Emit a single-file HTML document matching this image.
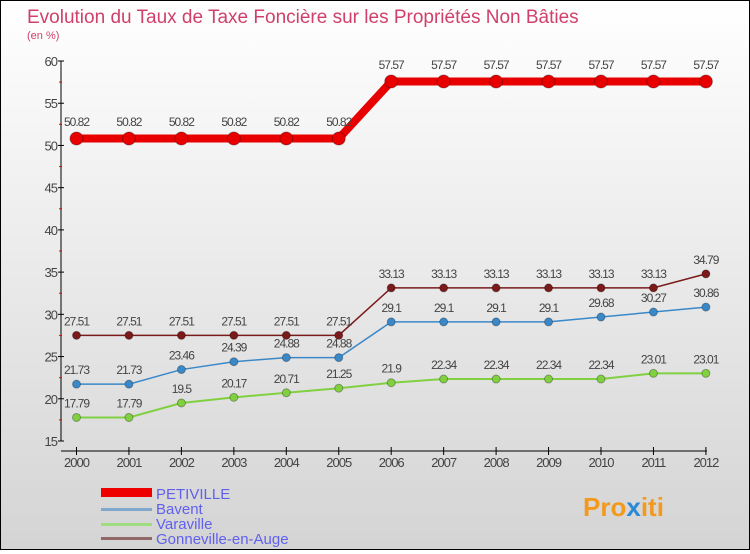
<!DOCTYPE html>
<html><head><meta charset="utf-8"><style>
html,body{margin:0;padding:0}
body{width:750px;height:550px;overflow:hidden;font-family:"Liberation Sans",sans-serif}
#wrap{position:relative;width:748px;height:548px;border:1px solid #000;background:linear-gradient(#ffffff,#d4d4d4)}
</style></head><body>
<div id="wrap">
<svg id="chart" width="748" height="548">
<text x="26" y="22" font-size="19" fill="#d0406a">Evolution du Taux de Taxe Foncière sur les Propriétés Non Bâties</text>
<text x="26" y="38" font-size="11" fill="#d0406a">(en %)</text>
<g id="axes"></g><g id="series"></g>
<g>
<rect x="100" y="487" width="51" height="9" fill="#e00"/>
<text x="155" y="498" font-size="15" fill="#6060ee">PETIVILLE</text>
<rect x="100" y="507" width="51" height="3" fill="#80a8cc"/>
<text x="155" y="513" font-size="15" fill="#6060ee">Bavent</text>
<rect x="100" y="522" width="51" height="3" fill="#a0dc80"/>
<text x="155" y="528" font-size="15" fill="#6060ee">Varaville</text>
<rect x="100" y="536" width="51" height="3" fill="#906868"/>
<text x="155" y="543" font-size="15" fill="#6060ee">Gonneville-en-Auge</text>
</g>
<text x="582" y="515" font-size="26" font-weight="bold" fill="#f39a1e">Pro<tspan fill="#2a8ad6">x</tspan>iti</text>
</svg>
</div>
<script>
const years=[2000,2001,2002,2003,2004,2005,2006,2007,2008,2009,2010,2011,2012];
const petiville=[50.82,50.82,50.82,50.82,50.82,50.82,57.57,57.57,57.57,57.57,57.57,57.57,57.57];
const bavent=[21.73,21.73,23.46,24.39,24.88,24.88,29.1,29.1,29.1,29.1,29.68,30.27,30.86];
const varaville=[17.79,17.79,19.5,20.17,20.71,21.25,21.9,22.34,22.34,22.34,22.34,23.01,23.01];
const gonneville=[27.51,27.51,27.51,27.51,27.51,27.51,33.13,33.13,33.13,33.13,33.13,33.13,34.79];
const yTicks=[15,20,25,30,35,40,45,50,55,60];
const NS='http://www.w3.org/2000/svg';
const xS=i=>75.5+i*52.45;
const yS=v=>440-(v-15)*380/45;
function mk(tag,attrs,parent){const e=document.createElementNS(NS,tag);for(const k in attrs)e.setAttribute(k,attrs[k]);parent.appendChild(e);return e;}
const ax=document.getElementById('axes');
let l=mk('line',{x1:60,y1:yS(60),x2:60,y2:yS(15),stroke:'#000'},ax);


l=mk('line',{x1:60,y1:450,x2:706,y2:450,stroke:'#000'},ax);


yTicks.forEach(v=>{
 mk('line',{x1:57,y1:yS(v),x2:63,y2:yS(v),stroke:'#000'},ax);
 if(v<60)mk('line',{x1:58,y1:yS(v+2.5),x2:61,y2:yS(v+2.5),stroke:'#e00'},ax);
 const t=mk('text',{x:56,y:yS(v)+5,'font-size':13,'text-anchor':'end',fill:'#444','letter-spacing':'-1'},ax);
 t.textContent=v;
 
 
});
years.forEach((y,i)=>{
 mk('line',{x1:xS(i),y1:446,x2:xS(i),y2:454,stroke:'#000'},ax);
 const t=mk('text',{x:xS(i),y:466,'font-size':13,'text-anchor':'middle',fill:'#444','letter-spacing':'-1'},ax);
 t.textContent=y;
 
 
});
const sg=document.getElementById('series');
function draw(data,color,w,r,name){
 const g=mk('g',{},sg);
 
 
 const p=mk('polyline',{points:data.map((v,i)=>xS(i)+','+yS(v)).join(' '),fill:'none',stroke:color,'stroke-width':w},g);
 
 
 data.forEach((v,i)=>{
  const c=mk('circle',{cx:xS(i),cy:yS(v),r:r,fill:color,stroke:'rgba(0,0,0,0.3)','stroke-width':1},g);
  
  
  const t=mk('text',{x:xS(i),y:yS(v)-r-6,'font-size':12,'text-anchor':'middle',fill:'#444','letter-spacing':'-1'},g);
  t.textContent=v;
  
  
 });
}
draw(varaville,'#80d040',2,4,'varaville');
draw(bavent,'#3a88c8',1.5,4,'bavent');
draw(gonneville,'#7a1a1a',1.5,4,'gonneville');
draw(petiville,'#e80000',8,6.5,'petiville');
</script>
</body></html>
